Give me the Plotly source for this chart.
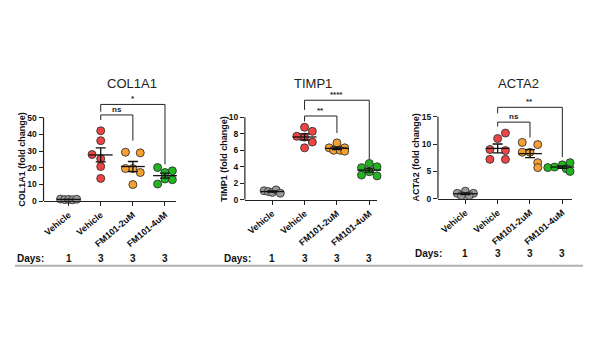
import plotly.graph_objects as go
import numpy as np

# ---------------- data ----------------
categories = ["Vehicle", "Vehicle", "FM101-2uM", "FM101-4uM"]
days = ["1", "3", "3", "3"]
genes = ["COL1A1", "TIMP1", "ACTA2"]
colors = ["#9a9a9a", "#ee4444", "#f5a030", "#22b522"]

col1a1_vals = [
    [1.2, 0.9, 1.0, 0.8, 1.1],
    [42.1, 36.2, 27.9, 25.4, 20.7, 13.6],
    [29.3, 28.9, 19.5, 19.5, 17.1, 9.9],
    [20.1, 18.1, 17.1, 13.2, 12.8, 10.2],
]
col1a1_off = [
    [-0.25, -0.12, 0.0, 0.12, 0.25],
    [0.0, 0.0, -0.27, 0.0, 0.0, 0.0],
    [-0.23, 0.23, -0.23, 0.0, 0.23, 0.0],
    [-0.23, 0.23, 0.0, 0.0, 0.23, -0.23],
]
timp1_vals = [
    [1.1, 1.0, 0.9, 1.2, 0.8],
    [8.8, 8.3, 7.7, 7.6, 7.0, 6.3],
    [6.9, 6.3, 6.3, 6.0, 6.0, 5.9],
    [4.4, 4.0, 3.9, 3.4, 3.0, 2.9],
]
timp1_off = [
    [-0.25, -0.12, 0.0, 0.12, 0.25],
    [0.0, 0.24, -0.24, 0.0, 0.24, 0.0],
    [0.0, -0.24, 0.24, -0.1, 0.1, 0.24],
    [0.0, 0.24, -0.24, 0.0, -0.24, 0.24],
]
acta2_vals = [
    [1.0, 1.4, 1.0, 0.6, 0.6],
    [12.0, 11.0, 9.0, 8.8, 7.2, 7.2],
    [10.3, 9.9, 8.5, 8.5, 6.6, 5.7],
    [6.6, 6.2, 5.8, 5.7, 5.5, 5.0],
]
acta2_off = [
    [-0.25, 0.0, 0.25, -0.12, 0.12],
    [0.24, 0.0, -0.24, 0.24, -0.24, 0.24],
    [-0.24, 0.24, -0.24, 0.0, 0.24, 0.24],
    [0.24, 0.0, -0.24, -0.45, 0.12, 0.24],
]
all_vals = [col1a1_vals, timp1_vals, acta2_vals]
all_off = [col1a1_off, timp1_off, acta2_off]

y_ticks = [[0, 10, 20, 30, 40, 50], [0, 2, 4, 6, 8, 10], [0, 5, 10, 15]]
y_ranges = [[0, 62], [0, 12.5], [0, 18.8]]
x_ranges = [[-0.78, 3.33], [-0.845, 3.25], [-0.847, 3.3]]

# brackets: (from cat, to cat, height, left drop, right drop, label)
brackets = [
    [(1, 2, 51.6, 48.6, 36.2, "ns"), (1, 3, 57.9, 53.5, 22.0, "*")],
    [(1, 2, 10.16, 9.5, 8.1, "**"), (1, 3, 12.07, 10.9, 4.9, "****")],
    [(1, 2, 14.0, 13.2, 11.2, "ns"), (1, 3, 16.7, 15.6, 7.6, "**")],
]

# ---------------- layout geometry (pixels) ----------------
W, H = 590, 350
x_dom_px = [(42.6, 174.9), (244.3, 377.0), (437.7, 572.0)]
y_dom_px = [(204.0, 99.0), (202.7, 98.1), (201.7, 97.2)]
title_x_px = [131.7, 313.0, 518.3]
ytitle_x_px = [21.5, 222.5, 415.5]
days_lbl_x_px = [30.0, 237.0, 428.5]
days_y_px = [262.0, 262.0, 257.5]

FONT = "Arial, Liberation Sans, sans-serif"

fig = go.Figure()
layout_axes = {}
annotations = []
shapes = []

for p in range(3):
    xa = "x" if p == 0 else f"x{p+1}"
    ya = "y" if p == 0 else f"y{p+1}"
    xkey = "xaxis" if p == 0 else f"xaxis{p+1}"
    ykey = "yaxis" if p == 0 else f"yaxis{p+1}"
    vals = all_vals[p]
    offs = all_off[p]
    for c in range(4):
        v = np.array(vals[c])
        xs = np.array(offs[c]) + c
        fig.add_trace(go.Scatter(
            x=xs, y=v, mode="markers", xaxis=xa, yaxis=ya,
            marker=dict(size=8, color=colors[c], line=dict(color="#333", width=0.9)),
            cliponaxis=False, showlegend=False, hoverinfo="y"))
    # mean +/- SEM
    for c in range(4):
        v = np.array(vals[c])
        m = v.mean()
        sem = v.std(ddof=1) / np.sqrt(len(v))
        fig.add_trace(go.Scatter(
            x=[c], y=[m], mode="markers", xaxis=xa, yaxis=ya,
            marker=dict(symbol="line-ew-open", size=17, color="#111",
                        line=dict(color="#111", width=1.3)),
            error_y=dict(type="data", array=[sem], color="#111", thickness=1.3, width=5),
            cliponaxis=False, showlegend=False, hoverinfo="skip"))
    # brackets
    for (a, b, h, ld, rd, lbl) in brackets[p]:
        fig.add_trace(go.Scatter(
            x=[a, a, b, b], y=[ld, h, h, rd], mode="lines", xaxis=xa, yaxis=ya,
            line=dict(color="#222", width=1), cliponaxis=False,
            showlegend=False, hoverinfo="skip"))
        annotations.append(dict(
            x=(a + b) / 2, y=h, xref=xa, yref=ya, text=lbl, showarrow=False,
            yanchor="bottom", yshift=-1,
            font=dict(family=FONT, size=8, color="#222", weight="bold")))
    x0, x1 = x_dom_px[p]
    yb, yt = y_dom_px[p]
    layout_axes[xkey] = dict(
        domain=[x0 / W, x1 / W], range=x_ranges[p], anchor=ya,
        tickvals=[0, 1, 2, 3], ticktext=categories, tickangle=-40,
        ticks="outside", ticklen=4, tickwidth=1, tickcolor="#222",
        showline=True, linecolor="#222", linewidth=1.2,
        showgrid=False, zeroline=False,
        tickfont=dict(family=FONT, size=9, color="#111", weight="bold"))
    layout_axes[ykey] = dict(
        domain=[1 - yb / H, 1 - yt / H], range=y_ranges[p], anchor=xa,
        tickvals=y_ticks[p], ticks="outside", ticklen=4, tickwidth=1, tickcolor="#222",
        showline=False, showgrid=False, zeroline=False,
        tickfont=dict(family=FONT, size=8.5, color="#111", weight="bold"))
    shapes.append(dict(
        type="line", xref=f"{xa} domain", yref=ya, x0=0, x1=0,
        y0=0, y1=y_ticks[p][-1], line=dict(color="#222", width=1.2)))
    # panel title
    annotations.append(dict(
        x=title_x_px[p] / W, y=1 - 85 / H, xref="paper", yref="paper",
        text=genes[p], showarrow=False, xanchor="center", yanchor="middle",
        font=dict(family=FONT, size=13, color="#222")))
    # y title
    top_px = yb - y_ticks[p][-1] * (yb - yt) / y_ranges[p][1]
    annotations.append(dict(
        x=ytitle_x_px[p] / W, y=1 - ((yb + top_px) / 2) / H,
        xref="paper", yref="paper", text=f"{genes[p]} (fold change)",
        textangle=-90, showarrow=False, xanchor="center", yanchor="middle",
        font=dict(family=FONT, size=9, color="#111", weight="bold")))
    # days row
    annotations.append(dict(
        x=days_lbl_x_px[p] / W, y=1 - days_y_px[p] / H, xref="paper", yref="paper",
        text="Days:", showarrow=False, xanchor="center", yanchor="middle",
        font=dict(family=FONT, size=10, color="#111", weight="bold")))
    for c in range(4):
        annotations.append(dict(
            x=c, y=1 - days_y_px[p] / H, xref=xa, yref="paper",
            text=days[c], showarrow=False, xanchor="center", yanchor="middle",
            font=dict(family=FONT, size=10, color="#111", weight="bold")))

shapes.append(dict(type="line", xref="paper", yref="paper",
                   x0=14 / W, x1=583 / W, y0=1 - 269.5 / H, y1=1 - 269.5 / H,
                   line=dict(color="#b0b0b0", width=2)))

fig.update_layout(
    width=W, height=H, margin=dict(l=0, r=0, t=0, b=0),
    paper_bgcolor="white", plot_bgcolor="white",
    showlegend=False, annotations=annotations, shapes=shapes,
    font=dict(family=FONT),
    **layout_axes)

fig.write_html("out.html")
